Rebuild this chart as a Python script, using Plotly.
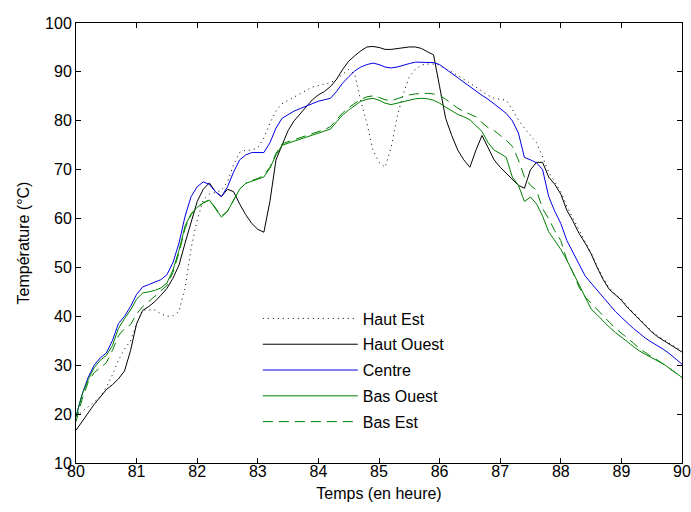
import plotly.graph_objects as go

# time axis, hours (0.1 h steps)
temps = [round(80 + i * 0.1, 1) for i in range(101)]

haut_est = [
    19.5, 20.5, 21.5, 22.5, 23.5, 25.5, 28.0, 31.0, 33.3, 35.0,
    38.5, 41.3, 41.3, 41.3, 40.5, 40.0, 40.1, 41.0, 45.8, 54.0,
    59.7, 63.8, 65.0, 65.3, 65.8, 67.5, 71.0, 73.5, 74.0, 74.0,
    74.5, 76.5, 79.5, 82.0, 83.5, 84.2, 84.8, 85.5, 86.3, 86.9,
    87.2, 87.5, 87.8, 88.5, 89.5, 90.5, 89.5, 84.0, 79.5, 74.0,
    71.5, 70.5, 74.5, 80.8, 85.5, 89.0, 90.5, 91.4, 91.6, 91.6,
    91.4, 90.6, 90.0, 89.3, 88.5, 87.7, 86.9, 86.0, 85.2, 84.6,
    84.4, 84.2, 82.3, 80.2, 78.5, 77.0, 75.5, 72.6, 69.5, 67.5,
    65.5, 62.5, 60.0, 57.5, 55.3, 53.0, 50.2, 47.8, 45.8, 44.5,
    43.5, 42.0, 40.7, 39.4, 38.2, 37.0, 36.0, 35.2, 34.4, 33.6,
    32.9,
]
haut_ouest = [
    16.7, 18.5, 20.3, 22.0, 23.5, 25.0, 26.0, 27.2, 28.8, 33.0,
    38.5, 41.2, 42.0, 43.0, 44.3, 45.7, 47.8, 50.5, 55.0, 59.5,
    63.5, 66.0, 67.3, 65.5, 64.5, 66.0, 65.5, 63.0, 60.8, 59.0,
    57.8, 57.2, 63.5, 72.0, 75.0, 78.0, 80.0, 81.5, 83.0, 84.3,
    85.3, 86.0, 87.0, 88.5, 90.5, 92.2, 93.3, 94.3, 95.1, 95.2,
    95.0, 94.6, 94.6, 94.8, 95.0, 95.1, 95.1, 94.8, 94.1, 93.5,
    87.0, 80.5, 77.0, 74.0, 72.0, 70.5, 74.0, 77.0, 74.5, 72.0,
    70.5, 69.3, 68.0, 66.8, 66.2, 70.0, 71.5, 71.5, 68.5, 67.0,
    65.0, 61.7, 59.5, 57.0, 55.0, 52.8, 50.0, 47.5, 45.5, 44.3,
    43.3, 41.8, 40.5, 39.2, 38.0, 36.8, 35.8, 35.0, 34.2, 33.4,
    32.7,
]
centre = [
    19.5, 24.0, 27.5, 30.0, 31.5, 32.5, 35.0, 38.5, 40.0, 42.0,
    44.5, 46.0, 46.5, 47.0, 47.5, 48.5, 51.0, 55.0, 60.5, 64.5,
    66.5, 67.5, 67.0, 65.5, 64.5, 66.5, 69.5, 72.0, 73.0, 73.5,
    73.5, 73.5, 75.5, 78.5, 80.5, 81.2, 82.0, 82.5, 83.0, 83.6,
    84.0, 84.3, 84.6, 86.0, 87.7, 89.0, 90.2, 91.0, 91.5, 91.8,
    91.5, 91.0, 90.8, 91.0, 91.4, 91.7, 92.0, 92.0, 92.0, 91.9,
    91.5, 90.5, 89.7, 88.8, 87.9, 86.9, 86.0, 85.2, 84.4, 83.5,
    82.5, 81.5, 80.0, 77.5, 72.5, 72.0, 71.4, 70.0, 64.5, 61.5,
    59.0, 55.5, 53.0, 50.5, 48.3, 46.8, 45.3, 44.0, 42.5, 41.0,
    39.8, 38.6, 37.5, 36.5, 35.5, 34.7, 34.0, 33.2, 32.3, 31.3,
    30.2,
]
bas_ouest = [
    19.5, 24.0, 27.0, 29.5, 31.0, 32.0, 34.0, 37.5, 39.5, 41.3,
    43.5, 44.8, 45.0, 45.3, 45.8, 46.8, 49.5, 53.5, 58.5, 61.0,
    62.3, 63.2, 63.8, 62.0, 60.3, 61.5, 63.8, 66.0, 67.2, 67.6,
    68.0, 68.5, 70.3, 73.0, 75.0, 75.4, 75.8, 76.3, 76.7, 77.1,
    77.4, 77.8, 78.3, 79.8, 81.2, 82.2, 83.1, 84.0, 84.4, 84.6,
    84.2, 83.6, 83.3, 83.6, 84.0, 84.3, 84.5, 84.6, 84.5, 84.2,
    83.6, 82.8, 82.0, 81.3, 80.8, 80.2, 79.0, 77.8, 75.5, 74.0,
    73.3, 72.5, 68.5, 66.8, 63.5, 64.4, 63.0, 60.5, 57.3, 55.5,
    53.7, 51.5, 49.0, 46.5, 44.0, 41.5, 40.3, 39.0, 37.8, 36.7,
    35.8, 34.8, 33.8, 32.9, 32.2, 31.5, 30.9, 30.2, 29.3, 28.4,
    27.5,
]
bas_est = [
    18.5, 23.0, 26.5, 28.5, 29.5, 30.5, 33.0, 36.0, 37.5, 38.3,
    40.5, 42.0, 43.0, 44.2, 45.2, 46.3, 49.0, 53.0, 58.0, 60.8,
    62.3, 63.2, 63.8, 62.2, 60.5, 61.5, 63.8, 66.0, 67.2, 67.8,
    68.2, 68.8, 70.5, 73.3, 75.3, 75.7, 76.1, 76.6, 77.0, 77.4,
    77.8, 78.2, 78.8, 80.2, 81.6, 82.7, 83.6, 84.4, 84.9, 85.1,
    84.8, 84.3, 84.1, 84.5, 85.0, 85.3, 85.5, 85.6, 85.6, 85.5,
    85.2, 84.4, 83.5, 82.6, 81.9, 81.3, 80.8, 79.6, 78.6, 78.0,
    77.0, 76.0, 74.8, 72.0, 68.5, 66.8, 65.8, 62.0, 60.0, 57.5,
    55.5, 51.5, 49.0, 46.0, 44.0, 42.7, 41.2, 40.0, 38.8, 37.6,
    36.6, 35.6, 34.5, 33.4, 32.5, 31.7, 31.0, 30.2, 29.3, 28.4,
    27.3,
]

SERIES = [
    ("Haut Est", haut_est, "#000000", "1px,4px"),
    ("Haut Ouest", haut_ouest, "#000000", "solid"),
    ("Centre", centre, "#0000e6", "solid"),
    ("Bas Ouest", bas_ouest, "#008000", "solid"),
    ("Bas Est", bas_est, "#008000", "10px,6px"),
]

FONT = "Liberation Sans, Arial, sans-serif"

fig = go.Figure()
for i, (name, vals, color, dash) in enumerate(SERIES):
    fig.add_trace(go.Scatter(
        x=temps, y=vals, name=name, mode="lines",
        line=dict(color=color, width=1, dash=dash),
        legendgroup=f"g{i}",
    ))

axis_style = dict(
    showgrid=False, zeroline=False, automargin=False,
    showline=True, linecolor="black", linewidth=1, mirror="allticks",
    ticks="inside", ticklen=5, tickcolor="black",
    tickfont=dict(family=FONT, size=16, color="black"),
)

fig.update_layout(
    width=691, height=512,
    paper_bgcolor="white", plot_bgcolor="white",
    font=dict(family=FONT, size=16, color="black"),
    margin=dict(l=76, r=9, t=23, b=49),
    xaxis=dict(
        range=[80, 90], dtick=1, ticklabelstandoff=-6,
        title=dict(text="Temps (en heure)", standoff=8, font=dict(size=16)),
        **axis_style,
    ),
    yaxis=dict(
        range=[10, 100], dtick=10,
        title=dict(text="Température (°C)", standoff=11, font=dict(size=16)),
        **axis_style,
    ),
    legend=dict(
        x=0.300, y=0.367, xanchor="left", yanchor="top",
        bgcolor="rgba(0,0,0,0)", borderwidth=0,
        font=dict(size=16), itemwidth=95, tracegroupgap=2,
    ),
    showlegend=True,
)

# page body has a default 8px margin; drop it so the figure fills the window
fig.write_html(
    "out.html",
    config={"displayModeBar": False},
    post_script="document.body.style.margin='0';",
)
